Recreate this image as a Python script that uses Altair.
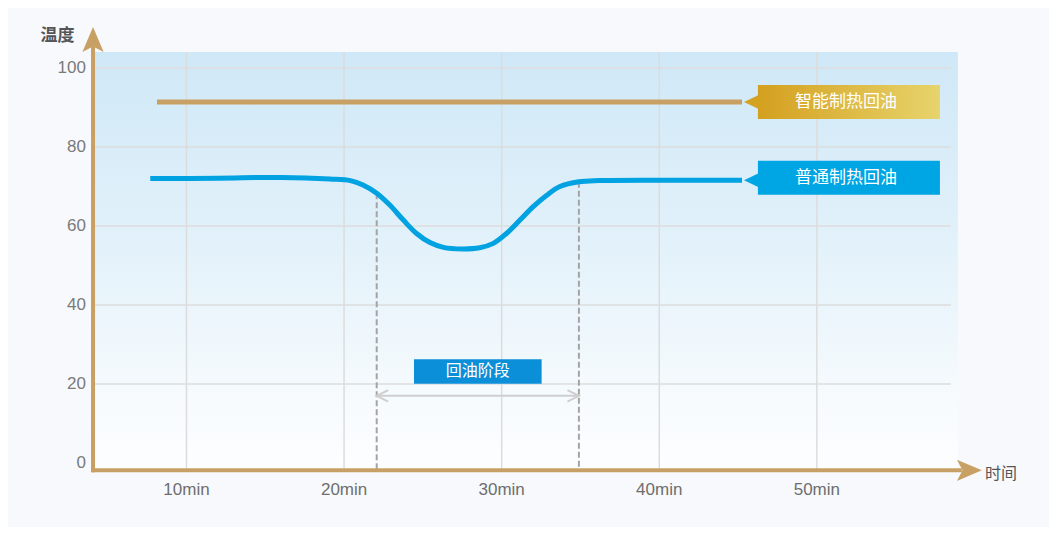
import altair as alt
import pandas as pd
import numpy as np

# ---------------- data ----------------
time_ticks = [10, 20, 30, 40, 50]
time_labels = ["10min", "20min", "30min", "40min", "50min"]
temp_ticks = [0, 20, 40, 60, 80, 100]

normal_t = [7.7, 12, 16, 19.1, 20.4, 21.2, 22.07, 22.9, 23.76, 24.6, 25.45, 26.3,
            27.5, 28.6, 29.47, 30.3, 31.16, 32.0, 32.86, 33.7, 34.9, 36.2, 40, 45.25]
normal_v = [72, 72.1, 72.3, 71.9, 71.5, 70.4, 68.3, 65.3, 61.5, 58.1, 55.8, 54.6,
            54.2, 54.5, 55.6, 58.1, 61.5, 64.9, 67.8, 70.0, 71.2, 71.5, 71.6, 71.6]
smart_t = [8.13, 45.25]
smart_v = [91.4, 91.4]

phase = [22.07, 34.9]
phase_label = "回油阶段"
series_names = ["智能制热回油", "普通制热回油"]
y_title = "温度"
x_title = "时间"

# ---------------- styling ----------------
W, H = 1041, 519
X_DOM = [-1.326, 64.73]
Y_DOM = [-16.20, 115.19]
GOLD = "#c9a064"
BLUE = "#00a2e2"
FONT = "Noto Sans CJK SC"
NUMFONT = "Liberation Sans"
AX_X0 = 4.07      # y-axis position (time)
AX_Y0 = -1.85     # x-axis position (temp)
TOP = 104.05      # top of the tinted area

xs = alt.Scale(domain=X_DOM, nice=False, zero=False)
ys = alt.Scale(domain=Y_DOM, nice=False, zero=False)


def X(f="x"):
    return alt.X(f"{f}:Q", scale=xs, axis=None)


def Y(f="y"):
    return alt.Y(f"{f}:Q", scale=ys, axis=None)


# tinted plot background (area with vertical gradient)
bg = alt.Chart(pd.DataFrame({"x": [AX_X0, 58.95], "y": [TOP, TOP], "y2": [AX_Y0, AX_Y0]})).mark_area(
    line=False,
    color=alt.LinearGradient(gradient="linear", x1=0, x2=0, y1=0, y2=1,
                             stops=[alt.GradientStop(offset=0, color="#cfe8f7"),
                                    alt.GradientStop(offset=0.45, color="#e2f1fa"),
                                    alt.GradientStop(offset=0.8, color="#f5fafd"),
                                    alt.GradientStop(offset=1, color="#fdfeff")])
).encode(x=X(), y=Y(), y2="y2:Q")

# grid
hg = [t for t in temp_ticks if t > 0]
hgrid = alt.Chart(pd.DataFrame({"y": hg, "x": [AX_X0] * len(hg), "x2": [58.5] * len(hg)})).mark_rule(
    color="#dcdcdc", strokeWidth=1.5
).encode(y=Y(), x=X(), x2="x2:Q")
vgrid = alt.Chart(pd.DataFrame({"x": time_ticks, "y": [TOP] * len(time_ticks),
                                "y2": [AX_Y0] * len(time_ticks)})).mark_rule(
    color="#dcdcdc", strokeWidth=1.5
).encode(x=X(), y=Y(), y2="y2:Q")

# phase markers
phase_top = [float(v) for v in np.interp(phase, normal_t, normal_v)]
dash = alt.Chart(pd.DataFrame({"x": phase, "y": phase_top, "y2": [AX_Y0] * 2})).mark_rule(
    color="#a4a4a4", strokeWidth=2, strokeDash=[6, 3]
).encode(x=X(), y=Y(), y2="y2:Q")

span_y = 17.0
span = alt.Chart(pd.DataFrame({"x": [phase[0]], "x2": [phase[1]], "y": [span_y]})).mark_rule(
    color="#cfcfcf", strokeWidth=2
).encode(x=X(), x2="x2:Q", y=Y())
chev_l = alt.Chart(pd.DataFrame({"x": [phase[0]], "y": [span_y]})).mark_point(
    filled=False, color="#cfcfcf", strokeWidth=2, size=132, opacity=1, shape="M2,-1 L0,0 L2,1"
).encode(x=X(), y=Y())
chev_r = alt.Chart(pd.DataFrame({"x": [phase[1]], "y": [span_y]})).mark_point(
    filled=False, color="#cfcfcf", strokeWidth=2, size=132, opacity=1, shape="M-2,-1 L0,0 L-2,1"
).encode(x=X(), y=Y())

mid = (phase[0] + phase[1]) / 2
pbox = alt.Chart(pd.DataFrame({"x": [mid - 4.05], "x2": [mid + 4.05], "y": [26.25], "y2": [20.08]})).mark_rect(
    color="#0b8fd8"
).encode(x=X(), x2="x2:Q", y=Y(), y2="y2:Q")
ptext = alt.Chart(pd.DataFrame({"x": [mid], "y": [23.2], "t": [phase_label]})).mark_text(
    color="white", fontSize=16, font=FONT, baseline="middle", align="center"
).encode(x=X(), y=Y(), text="t:N")

# series lines
gold_line = alt.Chart(pd.DataFrame({"x": smart_t, "y": smart_v})).mark_line(
    strokeWidth=5, color=GOLD, strokeCap="butt").encode(x=X(), y=Y())
blue_line = alt.Chart(pd.DataFrame({"x": normal_t, "y": normal_v})).mark_line(
    strokeWidth=5, color=BLUE, interpolate="catmull-rom", strokeCap="butt").encode(x=X(), y=Y())

# series label boxes
end_x = smart_t[-1]
box_centers = [smart_v[-1], normal_v[-1] + 0.6]
gold_box = alt.Chart(pd.DataFrame({"x": [end_x + 1.01, end_x + 12.56],
                                   "y": [box_centers[0] + 4.3] * 2, "y2": [box_centers[0] - 4.3] * 2})).mark_area(
    line=False,
    color=alt.LinearGradient(gradient="linear", x1=0, x2=1, y1=0, y2=0,
                             stops=[alt.GradientStop(offset=0, color="#d4a01f"),
                                    alt.GradientStop(offset=1, color="#e7d46c")])
).encode(x=X(), y=Y(), y2="y2:Q")
blue_box = alt.Chart(pd.DataFrame({"x": [end_x + 1.01], "x2": [end_x + 12.56],
                                   "y": [box_centers[1] + 4.3], "y2": [box_centers[1] - 4.3]})).mark_rect(
    color="#00a5e3"
).encode(x=X(), x2="x2:Q", y=Y(), y2="y2:Q")
ptr_gold = alt.Chart(pd.DataFrame({"x": [end_x + 0.57], "y": [smart_v[-1]]})).mark_point(
    filled=True, size=196, opacity=1, shape="M-1,0 L1.1,-1 L1.1,1 Z", color="#d3a222"
).encode(x=X(), y=Y())
ptr_blue = alt.Chart(pd.DataFrame({"x": [end_x + 0.57], "y": [normal_v[-1]]})).mark_point(
    filled=True, size=196, opacity=1, shape="M-1,0 L1.1,-1 L1.1,1 Z", color="#00a5e3"
).encode(x=X(), y=Y())
box_text = alt.Chart(pd.DataFrame({"x": [end_x + 6.6] * 2, "y": box_centers, "t": series_names})).mark_text(
    color="white", fontSize=17, font=FONT, baseline="middle", align="center"
).encode(x=X(), y=Y(), text="t:N")

# axes (gold, with arrowheads)
yaxis = alt.Chart(pd.DataFrame({"x": [AX_X0], "y": [AX_Y0 - 0.5], "y2": [105.5]})).mark_rule(
    color=GOLD, strokeWidth=4
).encode(x=X(), y=Y(), y2="y2:Q")
xaxis = alt.Chart(pd.DataFrame({"x": [AX_X0 - 0.12], "x2": [59.2], "y": [AX_Y0]})).mark_rule(
    color=GOLD, strokeWidth=4
).encode(x=X(), x2="x2:Q", y=Y())
head_up = alt.Chart(pd.DataFrame({"x": [AX_X0], "y": [107.2]})).mark_point(
    filled=True, color=GOLD, size=625, opacity=1, shape="M0,-1 L0.85,1 L0,0.55 L-0.85,1 Z"
).encode(x=X(), y=Y())
head_right = alt.Chart(pd.DataFrame({"x": [59.68], "y": [AX_Y0]})).mark_point(
    filled=True, color=GOLD, size=625, opacity=1, shape="M1,0 L-1,-0.85 L-0.55,0 L-1,0.85 Z"
).encode(x=X(), y=Y())

# tick labels
ylab = alt.Chart(pd.DataFrame({"x": [3.62] * len(temp_ticks), "y": temp_ticks,
                               "t": [str(v) for v in temp_ticks]})).mark_text(
    align="right", baseline="middle", fontSize=17, color="#7a7a7a", font=NUMFONT
).encode(x=X(), y=Y(), text="t:N")
xlab = alt.Chart(pd.DataFrame({"x": time_ticks, "y": [-6.84] * len(time_ticks), "t": time_labels})).mark_text(
    align="center", baseline="middle", fontSize=17, color="#6e6e6e", font=NUMFONT
).encode(x=X(), y=Y(), text="t:N")

# axis titles
ytitle = alt.Chart(pd.DataFrame({"x": [1.81], "y": [108.1], "t": [y_title]})).mark_text(
    baseline="middle", fontSize=17, color="#555555", font=FONT, align="center", fontWeight="bold"
).encode(x=X(), y=Y(), text="t:N")
xtitle = alt.Chart(pd.DataFrame({"x": [60.67], "y": [-2.78], "t": [x_title]})).mark_text(
    baseline="middle", fontSize=16, color="#555555", font=FONT, align="left"
).encode(x=X(), y=Y(), text="t:N")

chart = alt.layer(
    bg, hgrid, vgrid, dash, span, chev_l, chev_r, pbox, ptext, gold_line, blue_line,
    gold_box, blue_box, ptr_gold, ptr_blue, box_text, yaxis, xaxis, head_up, head_right,
    ylab, xlab, ytitle, xtitle
).properties(
    width=W, height=H, autosize=alt.AutoSizeParams(type="none"), padding=0,
    background="#f7f9fc"
).configure_view(strokeWidth=0)

chart.save("out.html", embed_options={"renderer": "svg", "actions": False})
